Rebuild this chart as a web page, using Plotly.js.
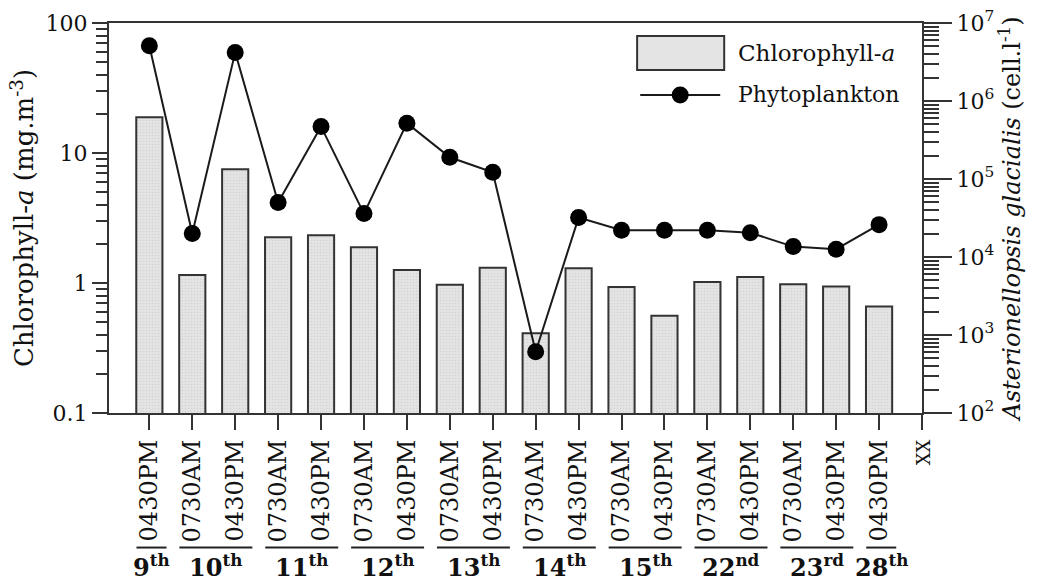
<!DOCTYPE html>
<html>
<head>
<meta charset="utf-8">
<script src="https://cdn.plot.ly/plotly-3.0.1.min.js"></script>
<style>
html,body{margin:0;padding:0;background:#fff;}
#chart{width:1040px;height:582px;}
</style>
</head>
<body>
<div id="chart"></div>
<script>
// ---- data ----
const times = ['0430PM','0730AM','0430PM','0730AM','0430PM','0730AM','0430PM','0730AM','0430PM',
               '0730AM','0430PM','0730AM','0430PM','0730AM','0430PM','0730AM','0430PM','0430PM'];
const days  = ['9th','10th','10th','11th','11th','12th','12th','13th','13th',
               '14th','14th','15th','15th','22nd','22nd','23rd','23rd','28th'];
const chlorophyll = [18.8, 1.15, 7.5, 2.25, 2.33, 1.88, 1.26, 0.97, 1.31,
                     0.41, 1.3, 0.93, 0.56, 1.02, 1.11, 0.98, 0.94, 0.66];
const phytoplankton = [5.1e6, 2.0e4, 4.2e6, 5.0e4, 4.7e5, 3.6e4, 5.2e5, 1.9e5, 1.22e5,
                       610, 3.2e4, 2.2e4, 2.2e4, 2.2e4, 2.05e4, 1.36e4, 1.26e4, 2.6e4];
const extraTick = 'XX';
const leftTicks = [0.1, 1, 10, 100];
const rightTicks = [1e2, 1e3, 1e4, 1e5, 1e6, 1e7];

const FONT = 'DejaVu Serif';
const idx = times.map((_, i) => i);
const tickVals = idx.concat([times.length]);
const tickText = times.concat(["<span style='font-size:18px'>" + extraTick + "</span>"]);
const rightText = rightTicks.map(v => '10<sup>' + Math.round(Math.log10(v)) + '</sup>');

const traces = [
  {
    type: 'bar', x: idx, y: chlorophyll, yaxis: 'y', width: 0.61,
    name: 'Chlorophyll-a', showlegend: false,
    marker: {
      color: '#e4e4e4',
      line: {color: '#333', width: 2},
      pattern: {shape: '.', fgcolor: '#c4c4c4', size: 3, solidity: 0.25, fillmode: 'overlay'}
    }
  },
  {
    type: 'scatter', mode: 'lines+markers', x: idx, y: phytoplankton, yaxis: 'y2',
    name: 'Phytoplankton', showlegend: false,
    line: {color: '#1a1a1a', width: 2},
    marker: {color: '#000', size: 17}
  }
];

// group lines and labels derived from days
const groups = [];
days.forEach((d, i) => {
  if (groups.length && groups[groups.length - 1].label === d) groups[groups.length - 1].end = i;
  else groups.push({label: d, start: i, end: i});
});
const shapes = [];
const annotations = [];
groups.forEach(g => {
  const x0 = g.start - 0.3, x1 = g.end + 0.4;
  shapes.push({type: 'line', xref: 'x', yref: 'paper', x0: x0, x1: x1, y0: -0.345, y1: -0.345,
               line: {color: '#222', width: 2}});
  const m = g.label.match(/^(\d+)(\D+)$/);
  annotations.push({xref: 'x', yref: 'paper', x: (x0 + x1) / 2, y: -0.392, xanchor: 'center', yanchor: 'middle',
    showarrow: false, text: '<b>' + m[1] + '<sup>' + m[2] + '</sup></b>',
    font: {family: FONT, size: 24, color: '#111'}});
});

// custom legend
shapes.push({type: 'rect', xref: 'paper', yref: 'paper', x0: 0.6496, x1: 0.7567, y0: 0.8796, y1: 0.9667,
             fillcolor: '#e4e4e4', line: {color: '#333', width: 2}});
shapes.push({type: 'line', xref: 'paper', yref: 'paper', x0: 0.6534, x1: 0.7518, y0: 0.8155, y1: 0.8155,
             line: {color: '#1a1a1a', width: 2}});
shapes.push({type: 'circle', xref: 'paper', yref: 'paper', xsizemode: 'pixel', ysizemode: 'pixel',
             xanchor: 0.7026, yanchor: 0.8155, x0: -8.5, x1: 8.5, y0: -8.5, y1: 8.5,
             fillcolor: '#000', line: {color: '#000', width: 0}});
annotations.push({xref: 'paper', yref: 'paper', x: 0.771, y: 0.923, xanchor: 'left', yanchor: 'middle',
  showarrow: false, text: 'Chlorophyll-<i>a</i>', font: {family: FONT, size: 23, color: '#111'}});
annotations.push({xref: 'paper', yref: 'paper', x: 0.771, y: 0.8155, xanchor: 'left', yanchor: 'middle',
  showarrow: false, text: 'Phytoplankton', font: {family: FONT, size: 22, color: '#111'}});

const layout = {
  width: 1040, height: 582,
  margin: {l: 109, r: 118, t: 23, b: 169},
  paper_bgcolor: '#fff', plot_bgcolor: '#fff',
  font: {family: FONT, size: 22, color: '#111'},
  showlegend: false,
  bargap: 0,
  xaxis: {
    range: [-0.94, times.length],
    tickmode: 'array', tickvals: tickVals, ticktext: tickText,
    tickangle: -90, ticks: 'outside', ticklen: 15, tickwidth: 2, tickcolor: '#333',
    ticklabelstandoff: 0,
    showline: true, linecolor: '#333', linewidth: 2, mirror: true,
    showgrid: false, zeroline: false,
    tickfont: {family: FONT, size: 24, color: '#111'}
  },
  yaxis: {
    type: 'log', range: [-1, 2],
    tickmode: 'array', tickvals: leftTicks, ticktext: leftTicks.map(String),
    ticks: 'outside', ticklen: 15, tickwidth: 2, tickcolor: '#333',
    minor: {ticks: 'outside', ticklen: 11, tickwidth: 2, tickcolor: '#333', showgrid: false, dtick: 'D1'},
    showline: true, linecolor: '#333', linewidth: 2,
    showgrid: false, zeroline: false,
    tickfont: {family: FONT, size: 22, color: '#111'},
    title: {text: 'Chlorophyll-<i>a</i> (mg.m<sup>-3</sup>)', standoff: 4,
            font: {family: FONT, size: 26, color: '#111'}}
  },
  yaxis2: {
    type: 'log', range: [2, 7],
    tickmode: 'array', tickvals: rightTicks, ticktext: rightText,
    overlaying: 'y', side: 'right',
    ticks: 'outside', ticklen: 28, tickwidth: 2, tickcolor: '#333',
    minor: {ticks: 'outside', ticklen: 15, tickwidth: 2, tickcolor: '#333', showgrid: false, dtick: 'D1'},
    showline: true, linecolor: '#333', linewidth: 2,
    showgrid: false, zeroline: false,
    tickfont: {family: FONT, size: 22, color: '#111'},
    title: {text: '<i>Asterionellopsis glacialis</i> (cell.l<sup>-1</sup>)', standoff: 10,
            font: {family: FONT, size: 24, color: '#111'}}
  },
  shapes: shapes,
  annotations: annotations
};

Plotly.newPlot('chart', traces, layout, {staticPlot: true, displayModeBar: false});
</script>
</body>
</html>
